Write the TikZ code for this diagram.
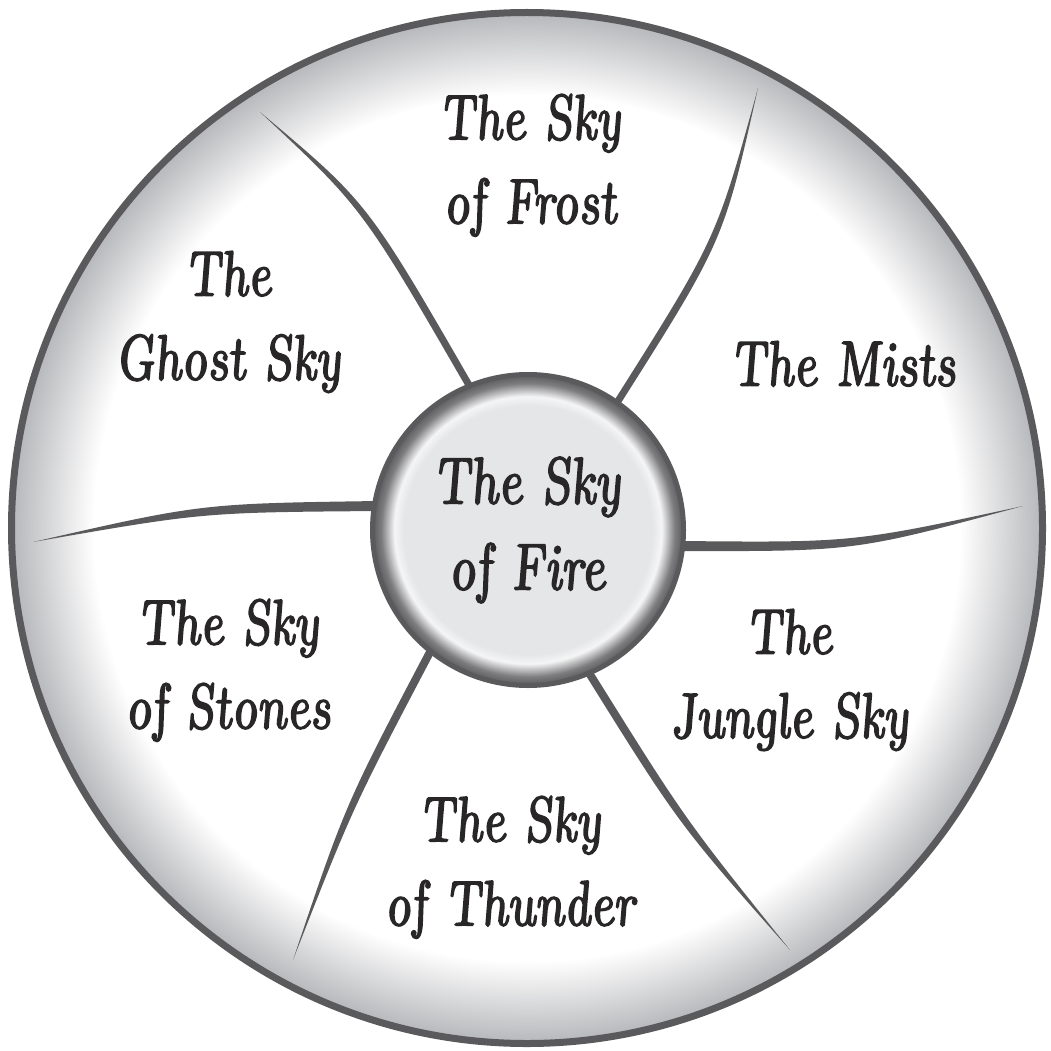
\documentclass[tikz,border=0pt]{standalone}
\usepackage{fontspec}
\usetikzlibrary{calc}
\newfontfamily\skyfont{lmroman10-italic.otf}[FakeStretch=0.8,FakeBold=2.5,FakeSlant=-0.12]
\definecolor{inkgray}{RGB}{90,90,92}
\definecolor{rimgray}{RGB}{182,183,186}
\definecolor{hubgray}{RGB}{229,230,232}
\definecolor{hubdark}{RGB}{125,125,127}
\definecolor{textcol}{RGB}{40,38,38}
\pgfdeclareradialshading{wheelshade}{\pgfpoint{0bp}{0bp}}{color(0bp)=(white); color(21bp)=(white); color(25bp)=(rimgray); color(50bp)=(rimgray)}
\pgfdeclareradialshading{hubshade}{\pgfpoint{0bp}{0bp}}{color(0bp)=(hubgray); color(20bp)=(hubgray); color(21.5bp)=(white!60!hubgray); color(23.6bp)=(hubdark); color(25bp)=(inkgray); color(50bp)=(inkgray)}
\pgfdeclarelayer{back}
\pgfdeclarelayer{spokes}
\pgfsetlayers{back,spokes,main}
\tikzset{
  skylabel/.style={font=\skyfont\fontsize{64}{84}\selectfont, text=textcol, align=center, inner sep=0pt, anchor=north},
  spokefill/.style={fill=inkgray},
}
\newcommand\myspoke[5]{%
  \fill[spokefill] ($(#1)!#4!90:(#2)$) .. controls ($(#2)!#5!90:(#3)$) .. (#3)
    .. controls ($(#2)!#5!-90:(#3)$) .. ($(#1)!#4!-90:(#2)$) -- cycle;}
\begin{document}
\begin{tikzpicture}[x=1pt,y=-1pt]
\useasboundingbox (0,0) rectangle (1051,1051);
\begin{pgfonlayer}{back}
\node[circle, minimum size=1031pt, inner sep=0pt, shade, shading=wheelshade, draw=inkgray, line width=7pt] (wheel) at (527,528) {};
\end{pgfonlayer}
\node[circle, minimum size=311pt, inner sep=0pt, shade, shading=hubshade, draw=inkgray, line width=5pt,
      font=\skyfont\fontsize{66}{86}\selectfont, text=textcol, align=center] (hub) at (528,530) {The Sky\\of Fire};
\begin{pgfonlayer}{spokes}
\coordinate (s1) at ($(hub.center)!0.97!(hub.112)$);
\coordinate (s2) at ($(hub.center)!0.97!(hub.55)$);
\coordinate (s3) at ($(hub.center)!0.97!(hub.-6.5)$);
\coordinate (s4) at ($(hub.center)!0.97!(hub.-67)$);
\coordinate (s5) at ($(hub.center)!0.97!(hub.231)$);
\coordinate (s6) at ($(hub.center)!0.97!(hub.171)$);
\coordinate (c1) at (365,205);
\coordinate (c2) at (720,240);
\coordinate (c3) at (854,547);
\coordinate (c4) at (682,822);
\coordinate (c5) at (349,806);
\coordinate (c6) at (202,508);
\coordinate (e1) at (260,112);
\coordinate (e2) at (758,88);
\coordinate (e3) at (1023,506);
\coordinate (e4) at (790,950);
\coordinate (e5) at (293,960);
\coordinate (e6) at (33,542);
\myspoke{s1}{c1}{e1}{3.5pt}{3.8pt}
\myspoke{s2}{c2}{e2}{3.5pt}{3.8pt}
\myspoke{s3}{c3}{e3}{5pt}{4.5pt}
\myspoke{s4}{c4}{e4}{4pt}{4pt}
\myspoke{s5}{c5}{e5}{4pt}{4pt}
\myspoke{s6}{c6}{e6}{5pt}{4.5pt}
\end{pgfonlayer}
\node[skylabel] (frost) at (531,94) {The Sky\\of Frost};
\node[skylabel] (ghost) at (229,251) {The\\Ghost Sky};
\node[skylabel] (mists) at (844,341) {The Mists};
\node[skylabel] (stones) at (229,599) {The Sky\\of Stones};
\node[skylabel] (jungle) at (790,609) {The\\Jungle Sky};
\node[skylabel] (thunder) at (511,796) {The Sky\\of Thunder};
\end{tikzpicture}
\end{document}
